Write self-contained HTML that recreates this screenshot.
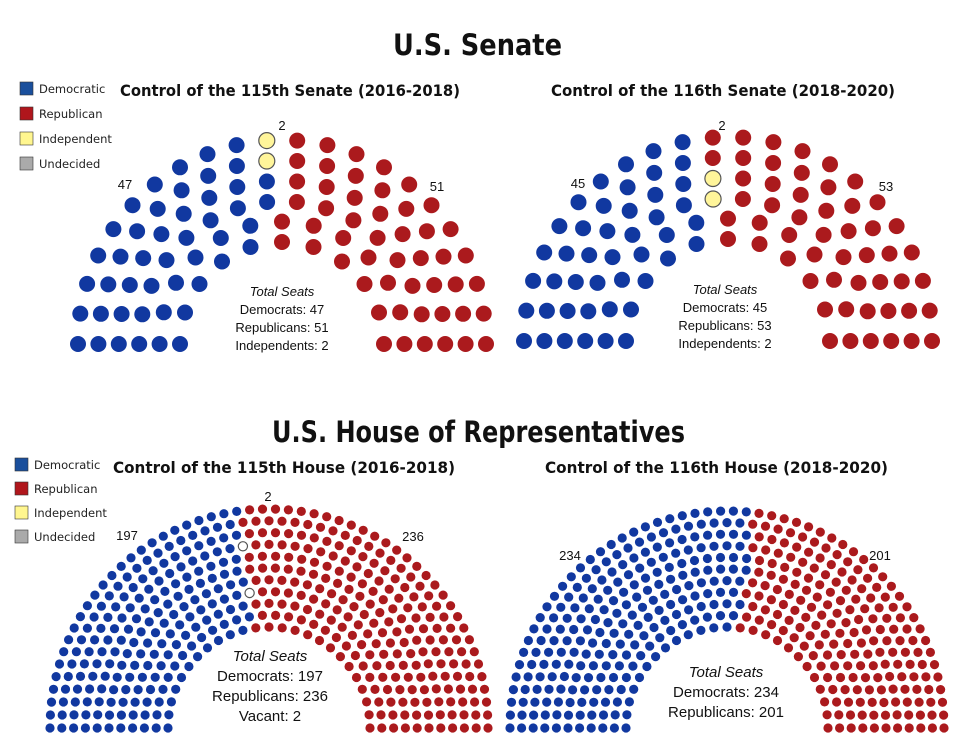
<!DOCTYPE html>
<html><head><meta charset="utf-8"><style>
body{margin:0;background:#fff;}
svg{display:block;font-family:"DejaVu Sans","Liberation Sans",sans-serif;}
</style></head><body>
<svg id="s" width="960" height="756" xmlns="http://www.w3.org/2000/svg">
<g font-weight="bold" fill="#111">
<text x="393" y="55" font-size="29" textLength="169" lengthAdjust="spacingAndGlyphs">U.S. Senate</text>
<text x="272" y="442" font-size="29" textLength="413" lengthAdjust="spacingAndGlyphs">U.S. House of Representatives</text>
<text x="120" y="96" font-size="16" textLength="340" lengthAdjust="spacingAndGlyphs">Control of the 115th Senate (2016-2018)</text>
<text x="551" y="96" font-size="16" textLength="344" lengthAdjust="spacingAndGlyphs">Control of the 116th Senate (2018-2020)</text>
<text x="113" y="473" font-size="16" textLength="342" lengthAdjust="spacingAndGlyphs">Control of the 115th House (2016-2018)</text>
<text x="545" y="473" font-size="16" textLength="343" lengthAdjust="spacingAndGlyphs">Control of the 116th House (2018-2020)</text>
</g>
<g font-size="11.5" fill="#222">
<rect x="20" y="82" width="13" height="13" fill="#1a4f9c" stroke="#333" stroke-width="0.6"/><text x="39" y="93">Democratic</text>
<rect x="20" y="107" width="13" height="13" fill="#b0161c" stroke="#333" stroke-width="0.6"/><text x="39" y="118">Republican</text>
<rect x="20" y="132" width="13" height="13" fill="#fff68f" stroke="#333" stroke-width="0.6"/><text x="39" y="143">Independent</text>
<rect x="20" y="157" width="13" height="13" fill="#aaa" stroke="#333" stroke-width="0.6"/><text x="39" y="168">Undecided</text>
<rect x="15" y="458" width="13" height="13" fill="#1a4f9c" stroke="#333" stroke-width="0.6"/><text x="34" y="469">Democratic</text>
<rect x="15" y="482" width="13" height="13" fill="#b0161c" stroke="#333" stroke-width="0.6"/><text x="34" y="493">Republican</text>
<rect x="15" y="506" width="13" height="13" fill="#fff68f" stroke="#333" stroke-width="0.6"/><text x="34" y="517">Independent</text>
<rect x="15" y="530" width="13" height="13" fill="#aaa" stroke="#333" stroke-width="0.6"/><text x="34" y="541">Undecided</text>
</g>
<g font-size="13" fill="#111" text-anchor="middle" font-family="Liberation Sans, sans-serif">
<text x="125" y="189">47</text><text x="282" y="130">2</text><text x="437" y="191">51</text>
<text x="578" y="188">45</text><text x="722" y="130">2</text><text x="886" y="191">53</text>
<text x="127" y="540">197</text><text x="268" y="501">2</text><text x="413" y="541">236</text>
<text x="570" y="560">234</text><text x="880" y="560">201</text>
</g>
<g fill="#111" text-anchor="middle" font-family="Liberation Sans, sans-serif">
<g font-size="13"><text x="282" y="296" font-style="italic">Total Seats</text><text x="282" y="314">Democrats: 47</text><text x="282" y="332">Republicans: 51</text><text x="282" y="350">Independents: 2</text></g>
<g font-size="13"><text x="725" y="294" font-style="italic">Total Seats</text><text x="725" y="312">Democrats: 45</text><text x="725" y="330">Republicans: 53</text><text x="725" y="348">Independents: 2</text></g>
<g font-size="15"><text x="270" y="661" font-style="italic">Total Seats</text><text x="270" y="681">Democrats: 197</text><text x="270" y="701">Republicans: 236</text><text x="270" y="721">Vacant: 2</text></g>
<g font-size="15"><text x="726" y="677" font-style="italic">Total Seats</text><text x="726" y="697">Democrats: 234</text><text x="726" y="717">Republicans: 201</text></g>
</g>
<g id="dots"></g>
</svg>
<script>
var B="#1138a0",R="#ab1a1d",Y="#fff59a",V="#fff";
function hemi(cx,cy,r0,r1,rows,total,groups,dr){
 var rs=[],sum=0;for(var i=0;i<rows;i++){var r=r0+(r1-r0)*i/(rows-1);rs.push(r);sum+=r;}
 var ns=rs.map(function(r){return Math.round(total*r/sum);});
 var d=total-ns.reduce(function(a,b){return a+b;},0);ns[rows-1]+=d;
 var seats=[];
 for(var i=0;i<rows;i++){for(var j=0;j<ns[i];j++){var a=Math.PI-j*Math.PI/(ns[i]-1);seats.push({a:a,r:rs[i]});}}
 seats.sort(function(p,q){return q.a-p.a||p.r-q.r;});
 var k=0,out="";
 groups.forEach(function(g){for(var m=0;m<g[0];m++){var s=seats[k++];var x=cx+s.r*Math.cos(s.a),y=cy-s.r*Math.sin(s.a);
  var st=(g[1]==Y||g[1]==V)?' stroke="#555" stroke-width="1.2"':'';
  out+='<circle cx="'+x.toFixed(1)+'" cy="'+y.toFixed(1)+'" r="'+dr+'" fill="'+g[1]+'"'+st+'/>';}});
 return out;
}
var h="";
h+=hemi(282,344,102,204,6,100,[[47,B],[2,Y],[51,R]],8);
h+=hemi(728,341,102,204,6,100,[[45,B],[2,Y],[53,R]],8);
h+=hemi(269,728,101,219,11,435,[[197,B],[2,V],[236,R]],4.6);
h+=hemi(727,728,101,217,11,435,[[234,B],[201,R]],4.6);
document.getElementById("dots").innerHTML=h;
</script>
</body></html>
